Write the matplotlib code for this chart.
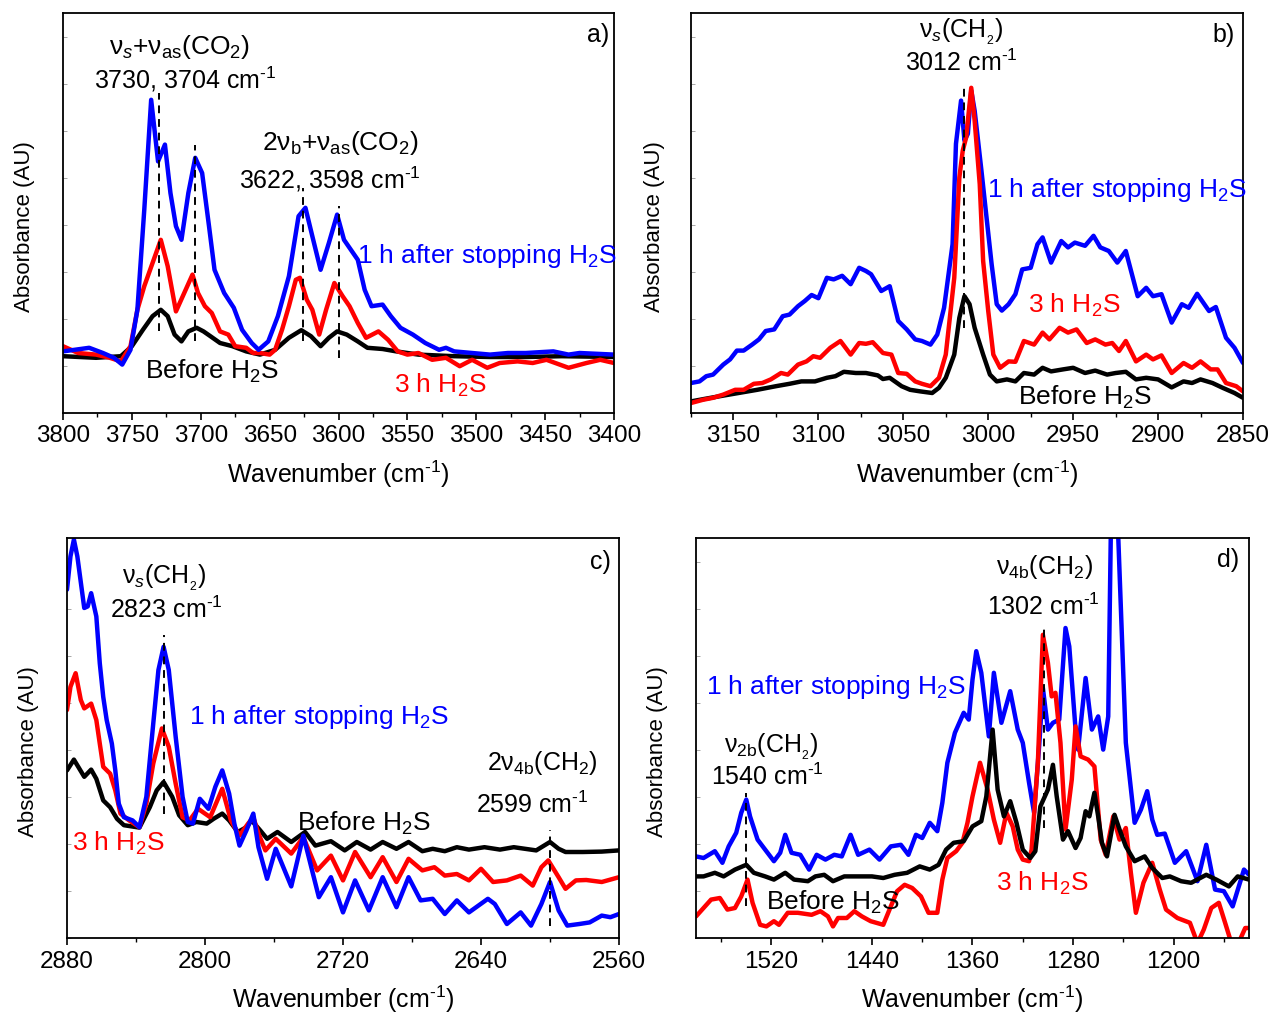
import numpy as np
import matplotlib.pyplot as plt
from matplotlib.ticker import MultipleLocator, NullFormatter

plt.rcParams['font.family'] = ['Liberation Sans', 'DejaVu Sans']
plt.rcParams['mathtext.fontset'] = 'custom'
plt.rcParams['mathtext.rm'] = 'Liberation Sans'
plt.rcParams['mathtext.it'] = 'Liberation Sans:italic'
plt.rcParams['mathtext.bf'] = 'Liberation Sans:bold'
plt.rcParams['mathtext.sf'] = 'Liberation Sans'

# ---- panel a) CO2 combination bands (absorbance in arbitrary units) ----
a_wn_blue = [3800, 3781, 3771, 3763, 3757, 3751, 3746, 3741, 3736, 3731, 3726, 3722, 3718, 3714,
             3709, 3704, 3699, 3694, 3690, 3683, 3676, 3670, 3663, 3658, 3651, 3644, 3636, 3629,
             3624, 3619, 3613, 3607, 3601, 3596, 3591, 3586, 3581, 3576, 3568, 3562, 3555, 3546,
             3537, 3527, 3522, 3516, 3503, 3490, 3477, 3464, 3444, 3433, 3425, 3400]
a_blue = [15.4, 16.3, 15.0, 13.8, 12.1, 15.8, 25.8, 50.8, 78.3, 62.9, 67.1, 55.0, 46.7, 43.3,
          55.0, 63.8, 60.0, 46.7, 35.8, 30.0, 26.3, 20.8, 17.5, 15.8, 17.9, 24.2, 34.2, 49.2,
          51.3, 44.2, 35.8, 42.5, 49.6, 43.3, 40.8, 38.3, 30.8, 26.7, 27.1, 24.2, 21.3, 19.6,
          17.5, 15.8, 16.3, 15.4, 15.0, 14.6, 15.0, 15.0, 15.4, 14.6, 15.0, 14.6]
a_wn_red = [3800, 3789, 3776, 3766, 3758, 3751, 3746, 3741, 3735, 3729, 3724, 3718, 3712, 3706,
            3702, 3697, 3692, 3686, 3680, 3675, 3667, 3662, 3657, 3650, 3646, 3641, 3636, 3631,
            3628, 3623, 3619, 3614, 3609, 3603, 3597, 3592, 3586, 3580, 3571, 3564, 3557, 3550,
            3542, 3532, 3522, 3512, 3503, 3492, 3483, 3470, 3459, 3449, 3433, 3420, 3410, 3400]
a_red = [16.7, 15.0, 14.6, 13.8, 12.9, 16.7, 25.8, 31.7, 37.5, 43.3, 36.7, 25.4, 30.0, 34.6,
         30.0, 26.7, 25.0, 20.4, 19.6, 16.7, 16.3, 15.0, 15.0, 14.6, 15.8, 20.8, 26.7, 33.3,
         33.8, 28.3, 25.8, 19.6, 25.8, 32.5, 29.2, 26.7, 22.5, 18.8, 20.4, 18.3, 15.4, 14.6,
         15.0, 13.3, 13.8, 11.7, 13.3, 11.3, 12.5, 12.9, 12.5, 13.3, 11.3, 12.5, 13.3, 12.5]
a_wn_black = [3800, 3776, 3758, 3750, 3742, 3735, 3729, 3724, 3719, 3714, 3709, 3703, 3698, 3693,
              3686, 3677, 3667, 3657, 3646, 3636, 3627, 3620, 3613, 3607, 3601, 3594, 3586, 3579,
              3568, 3558, 3542, 3516, 3490, 3464, 3438, 3400]
a_black = [14.2, 13.8, 14.2, 16.7, 20.8, 24.2, 25.8, 24.2, 19.6, 17.9, 20.4, 21.3, 20.4, 19.2,
           17.5, 16.7, 15.4, 14.6, 15.8, 18.8, 20.7, 19.2, 16.7, 18.8, 20.4, 19.6, 17.9, 16.3,
           16.0, 15.4, 14.6, 14.2, 14.0, 14.0, 14.2, 14.0]
a_marks = [3730, 3704, 3626, 3600]
a_mark_top = [80.0, 67.1, 56.3, 51.7]
a_mark_bot = [20.4, 17.9, 17.9, 13.8]

# ---- panel b) nu_s(CH2) region ----
b_wn_blue = [3175, 3170, 3166, 3162, 3156, 3152, 3148, 3144, 3139, 3135, 3131, 3126, 3121, 3117,
             3112, 3108, 3104, 3100, 3095, 3091, 3086, 3081, 3076, 3072, 3069, 3063, 3058, 3053,
             3048, 3043, 3039, 3034, 3030, 3026, 3021, 3019, 3016, 3014, 3012, 3010, 3008, 3004,
             3001, 2998, 2995, 2992, 2988, 2984, 2980, 2975, 2971, 2968, 2963, 2957, 2953, 2949,
             2943, 2938, 2934, 2929, 2924, 2919, 2912, 2907, 2903, 2898, 2892, 2886, 2882, 2877,
             2870, 2866, 2860, 2855, 2850]
b_blue = [7.5, 7.9, 9.2, 9.6, 12.1, 13.4, 15.6, 15.6, 17.1, 18.4, 20.5, 20.9, 24.2, 24.6,
          26.7, 28.0, 29.5, 28.7, 33.8, 33.4, 34.3, 32.2, 36.3, 35.5, 34.7, 30.5, 31.7, 23.0,
          20.9, 18.4, 18.0, 17.1, 19.6, 26.3, 42.2, 67.3, 78.1, 68.1, 69.8, 80.6, 75.6, 60.6,
          48.9, 37.2, 27.2, 25.6, 27.2, 29.7, 35.9, 36.3, 42.2, 43.9, 37.6, 43.0, 41.4, 42.6,
          41.8, 44.3, 41.4, 40.5, 37.6, 40.5, 29.2, 31.3, 29.2, 29.7, 22.6, 27.2, 26.3, 29.8,
          25.5, 26.5, 18.8, 16.3, 12.5]
b_wn_red = [3175, 3168, 3162, 3156, 3149, 3144, 3138, 3133, 3128, 3122, 3118, 3112, 3107, 3103,
            3099, 3093, 3087, 3081, 3076, 3072, 3068, 3062, 3057, 3053, 3048, 3043, 3039, 3034,
            3029, 3025, 3020, 3017, 3015, 3013, 3010, 3008, 3005, 3003, 3000, 2997, 2993, 2988,
            2984, 2979, 2973, 2968, 2964, 2958, 2953, 2948, 2942, 2937, 2931, 2927, 2923, 2919,
            2913, 2907, 2903, 2898, 2892, 2885, 2880, 2875, 2869, 2865, 2860, 2854, 2850]
b_red = [2.5, 3.3, 3.8, 4.6, 5.8, 5.8, 7.3, 7.5, 8.4, 10.0, 9.6, 12.1, 12.9, 14.2,
         13.8, 16.3, 18.0, 14.6, 17.5, 17.3, 17.7, 15.0, 14.6, 10.0, 9.8, 7.9, 7.3, 6.7,
         8.8, 14.6, 33.8, 58.9, 65.6, 68.9, 81.3, 73.1, 57.2, 38.0, 25.5, 14.6, 11.3, 12.9,
         12.8, 18.0, 17.1, 20.1, 18.4, 21.3, 20.1, 20.9, 17.5, 18.4, 17.1, 17.5, 15.5, 18.0,
         12.9, 14.6, 13.4, 14.4, 10.0, 12.5, 11.3, 12.9, 10.9, 10.9, 7.5, 6.7, 5.4]
b_wn_black = [3175, 3166, 3158, 3147, 3136, 3125, 3117, 3110, 3102, 3095, 3090, 3085, 3078, 3072,
              3065, 3062, 3058, 3051, 3046, 3040, 3033, 3029, 3025, 3020, 3017, 3014, 3011, 3008,
              3003, 2999, 2995, 2989, 2984, 2979, 2973, 2968, 2963, 2956, 2950, 2943, 2937, 2930,
              2925, 2919, 2913, 2907, 2900, 2892, 2885, 2880, 2875, 2868, 2862, 2855, 2850]
b_black = [2.9, 3.6, 4.2, 5.0, 5.8, 6.7, 7.3, 7.9, 7.9, 8.8, 9.2, 10.3, 10.0, 10.0,
           9.4, 8.5, 8.8, 6.7, 5.8, 5.4, 5.0, 6.3, 8.8, 14.6, 23.8, 29.2, 27.2, 21.3,
           14.6, 9.6, 7.9, 8.4, 7.9, 10.0, 9.6, 11.3, 10.4, 10.9, 11.3, 10.0, 10.6, 9.6,
           10.0, 10.3, 8.4, 8.8, 8.4, 6.4, 7.9, 7.5, 8.4, 7.5, 6.3, 5.0, 3.8]
b_marks = [3014]
b_mark_top = [81.3]
b_mark_bot = [21.3]

# ---- panel c) 2880-2560 cm-1 ----
c_wn_blue = [2880, 2878, 2876, 2874, 2870, 2868, 2866, 2863, 2861, 2859, 2857, 2854, 2852, 2850,
             2847, 2842, 2838, 2834, 2830, 2827, 2824, 2821, 2817, 2813, 2810, 2807, 2803, 2798,
             2794, 2790, 2786, 2783, 2780, 2776, 2772, 2769, 2764, 2759, 2750, 2743, 2734, 2727,
             2720, 2713, 2705, 2697, 2689, 2682, 2675, 2668, 2661, 2654, 2647, 2636, 2632, 2625,
             2617, 2611, 2605, 2600, 2595, 2590, 2583, 2577, 2570, 2565, 2560]
c_blue = [87.1, 95.4, 99.6, 95.4, 82.5, 82.9, 86.2, 80.4, 68.7, 60.3, 54.5, 48.6, 41.9, 33.6,
          30.2, 29.4, 27.7, 35.3, 53.6, 67.0, 72.8, 67.0, 50.3, 35.3, 29.0, 28.6, 34.8, 32.3,
          37.8, 41.9, 36.1, 28.6, 23.1, 26.9, 31.1, 22.7, 14.8, 22.3, 12.9, 25.6, 10.2, 15.2,
          6.4, 14.4, 6.9, 15.2, 7.7, 15.2, 9.4, 9.8, 6.0, 9.4, 6.4, 9.8, 8.5, 3.5,
          6.4, 3.1, 8.5, 14.0, 6.9, 3.1, 3.5, 3.9, 5.6, 5.2, 6.0]
c_wn_red = [2880, 2878, 2875, 2872, 2870, 2866, 2863, 2861, 2859, 2855, 2852, 2849, 2844, 2838,
            2834, 2830, 2825, 2821, 2817, 2813, 2809, 2804, 2797, 2790, 2785, 2780, 2775, 2772,
            2769, 2765, 2759, 2750, 2743, 2735, 2727, 2720, 2713, 2704, 2697, 2689, 2682, 2674,
            2667, 2661, 2654, 2647, 2640, 2633, 2625, 2617, 2610, 2605, 2601, 2595, 2591, 2585,
            2579, 2570, 2560]
c_red = [57.0, 62.8, 66.2, 59.5, 57.4, 58.6, 54.5, 48.6, 42.8, 41.1, 36.9, 31.1, 29.4, 27.7,
         33.6, 43.6, 52.4, 47.8, 38.6, 30.2, 29.4, 32.3, 30.2, 37.3, 29.4, 25.6, 28.6, 30.2,
         26.1, 21.9, 24.8, 21.1, 25.2, 16.9, 20.6, 14.4, 21.5, 15.2, 20.2, 14.0, 19.8, 16.9,
         17.7, 15.6, 16.0, 14.4, 17.3, 14.0, 14.4, 15.6, 13.1, 17.7, 19.4, 15.2, 12.3, 14.4,
         14.5, 14.0, 15.2]
c_wn_black = [2880, 2876, 2870, 2866, 2863, 2859, 2855, 2851, 2847, 2838, 2832, 2828, 2824, 2819,
              2815, 2810, 2805, 2799, 2795, 2790, 2786, 2781, 2776, 2773, 2768, 2764, 2758, 2750,
              2742, 2736, 2727, 2719, 2712, 2704, 2697, 2689, 2682, 2674, 2668, 2661, 2654, 2647,
              2638, 2629, 2621, 2608, 2600, 2595, 2591, 2581, 2570, 2560]
c_black = [41.9, 44.6, 40.3, 42.1, 39.8, 34.4, 32.7, 29.8, 28.2, 27.6, 32.7, 36.9, 39.0, 35.3,
           30.7, 28.2, 29.0, 28.6, 29.8, 31.1, 29.4, 26.5, 27.7, 29.4, 26.9, 24.8, 26.5, 24.0,
           26.5, 23.1, 24.2, 21.9, 24.0, 22.1, 24.0, 22.3, 24.0, 21.7, 22.3, 21.7, 22.7, 22.1,
           22.7, 22.1, 22.7, 21.9, 24.0, 22.3, 21.5, 21.5, 21.6, 21.9]
c_marks = [2823.5, 2600]
c_mark_top = [75.8, 26.9]
c_mark_bot = [31.1, 3.1]

# ---- panel d) 1580-1140 cm-1 ----
d_wn_blue = [1580, 1574, 1565, 1559, 1554, 1548, 1544, 1540, 1537, 1531, 1525, 1518, 1513, 1509,
             1504, 1497, 1490, 1484, 1477, 1470, 1464, 1457, 1451, 1442, 1434, 1425, 1417, 1411,
             1405, 1400, 1394, 1388, 1384, 1380, 1374, 1367, 1363, 1360, 1357, 1353, 1347, 1343,
             1337, 1330, 1324, 1320, 1315, 1311, 1307, 1304, 1300, 1296, 1291, 1286, 1283, 1278,
             1276, 1270, 1265, 1260, 1256, 1252, 1250, 1247, 1244, 1238, 1231, 1226, 1221, 1217,
             1213, 1207, 1199, 1190, 1181, 1174, 1167, 1160, 1153, 1144, 1140]
d_blue = [20.4, 20.0, 21.7, 18.8, 22.9, 26.3, 31.3, 34.6, 30.4, 24.6, 22.1, 19.2, 21.3, 25.8,
          21.3, 20.8, 17.1, 20.8, 19.6, 20.8, 20.4, 25.8, 20.8, 22.1, 19.6, 22.9, 23.3, 20.8,
          25.8, 25.0, 28.8, 26.7, 33.8, 43.8, 51.3, 56.3, 54.6, 64.6, 71.7, 66.3, 50.4, 66.3,
          53.8, 61.7, 52.1, 48.8, 38.8, 31.3, 47.9, 62.5, 52.1, 53.8, 54.6, 77.5, 72.9, 52.1,
          47.1, 65.0, 52.1, 55.4, 47.1, 55.4, 100.0, 140.0, 100.0, 48.8, 28.8, 32.1, 36.7, 29.6,
          25.8, 26.1, 18.8, 21.7, 14.2, 23.3, 12.1, 11.7, 7.9, 17.1, 15.8]
d_wn_red = [1580, 1574, 1568, 1561, 1555, 1549, 1544, 1539, 1535, 1529, 1524, 1518, 1514, 1507,
            1499, 1488, 1481, 1475, 1471, 1467, 1460, 1454, 1448, 1441, 1431, 1425, 1420, 1414,
            1408, 1401, 1395, 1388, 1384, 1380, 1373, 1368, 1364, 1360, 1354, 1348, 1343, 1338,
            1333, 1328, 1324, 1320, 1315, 1313, 1308, 1304, 1300, 1297, 1294, 1290, 1286, 1281,
            1278, 1274, 1268, 1263, 1258, 1254, 1248, 1243, 1238, 1234, 1230, 1224, 1217, 1211,
            1206, 1197, 1187, 1181, 1176, 1170, 1164, 1159, 1154, 1149, 1143, 1140]
d_red = [5.4, 7.5, 9.6, 10.0, 7.1, 7.5, 10.4, 14.6, 8.8, 3.3, 2.9, 4.2, 3.3, 6.3,
         6.3, 5.8, 6.7, 5.4, 2.9, 5.0, 5.0, 6.7, 5.4, 4.2, 3.3, 7.9, 11.7, 13.3,
         12.5, 10.4, 6.3, 6.3, 14.6, 20.0, 21.7, 23.8, 28.8, 35.4, 43.8, 37.1, 29.6, 23.8,
         31.3, 27.9, 22.1, 19.6, 19.2, 22.1, 43.8, 75.8, 68.8, 60.4, 61.3, 48.8, 27.1, 39.6,
         52.9, 45.4, 44.6, 42.9, 24.6, 20.8, 30.4, 24.6, 27.5, 16.3, 6.3, 13.8, 18.8, 12.1,
         7.1, 5.0, 3.8, -1.3, 2.1, 7.5, 8.8, 3.8, -1.3, -1.7, 2.5, 2.5]
d_wn_black = [1580, 1574, 1565, 1558, 1549, 1540, 1534, 1525, 1518, 1509, 1502, 1491, 1485, 1478,
              1471, 1462, 1451, 1440, 1431, 1422, 1412, 1402, 1394, 1387, 1381, 1375, 1367, 1360,
              1353, 1349, 1344, 1340, 1335, 1330, 1325, 1320, 1314, 1310, 1306, 1300, 1296, 1293,
              1288, 1284, 1278, 1274, 1270, 1267, 1263, 1260, 1257, 1253, 1247, 1243, 1238, 1231,
              1223, 1217, 1209, 1203, 1194, 1186, 1174, 1166, 1156, 1149, 1140]
d_black = [15.4, 15.4, 16.3, 15.4, 17.1, 18.3, 16.3, 15.4, 14.6, 16.3, 14.6, 14.2, 15.4, 15.8,
           14.2, 15.4, 15.4, 15.4, 15.0, 15.8, 16.3, 17.9, 17.1, 18.3, 22.1, 23.8, 24.2, 27.9,
           29.2, 35.4, 52.1, 37.1, 30.4, 34.2, 28.8, 22.1, 20.0, 21.7, 32.9, 37.1, 43.3, 35.4,
           24.6, 26.7, 22.5, 25.0, 31.7, 30.4, 36.3, 30.4, 23.8, 20.4, 30.8, 27.1, 22.9, 19.2,
           20.4, 17.5, 15.0, 15.4, 14.2, 13.8, 15.8, 14.6, 12.9, 15.4, 14.6]
d_marks = [1540, 1303]
d_mark_top = [36.3, 77.9]
d_mark_bot = [7.9, 27.5]

BLUE = '#0000ff'
RED = '#ff0000'
BLACK = '#000000'
W, H = 1274, 1014
CM = 'cm$^{\u20101}$'


def make_axes(fig, left, right, top, bottom):
    return fig.add_axes([left / W, 1 - bottom / H, (right - left) / W, (bottom - top) / H])


def style(ax, xlim, major, minor, ylab_x):
    ax.set_xlim(*xlim)
    ax.set_ylim(0, 100)
    ax.xaxis.set_major_locator(MultipleLocator(major))
    ax.xaxis.set_minor_locator(MultipleLocator(minor))
    ax.yaxis.set_major_locator(MultipleLocator(11.75))
    ax.yaxis.set_major_formatter(NullFormatter())
    ax.tick_params(axis='x', which='major', direction='out', length=5, width=1.2,
                   labelsize=17.5, pad=4, top=False)
    ax.tick_params(axis='x', which='minor', direction='out', length=3, width=1.0, top=False)
    ax.tick_params(axis='y', which='major', direction='in', length=3, width=0.6,
                   color='#999999', right=False)
    for s in ax.spines.values():
        s.set_linewidth(1.3)
    ax.set_xlabel('Wavenumber (' + CM + ')', fontsize=18)
    ax.xaxis.set_label_coords(0.5, -0.115)
    ax.set_ylabel('Absorbance (AU)', fontsize=16)
    ax.yaxis.set_label_coords(ylab_x, 0.465)


def curves(ax, data, marks, tops, bots):
    for wn, ab, col in data:
        ax.plot(wn, ab, color=col, lw=3.2, solid_joinstyle='round', solid_capstyle='round')
    for m, t, b in zip(marks, tops, bots):
        ax.plot([m, m], [b, t], color='k', lw=1.4, ls=(0, (4, 3)))


def txt(ax, x, y, s, color='k', size=19, ha='center'):
    ax.text(x, y, s, color=color, fontsize=size, ha=ha, va='center', transform=ax.transAxes)


fig = plt.figure(figsize=(W / 100, H / 100), dpi=100)

# a)
ax = make_axes(fig, 63, 614, 13, 413)
curves(ax, [(a_wn_black, a_black, BLACK), (a_wn_red, a_red, RED), (a_wn_blue, a_blue, BLUE)],
       a_marks, a_mark_top, a_mark_bot)
style(ax, (3800, 3400), 50, 25, -0.05)
txt(ax, 0.212, 0.915, r'ν$_s$+ν$_\mathrm{as}$(CO$_2$)', size=19)
txt(ax, 0.221, 0.833, '3730, 3704 ' + CM, size=18)
txt(ax, 0.503, 0.675, r'2ν$_\mathrm{b}$+ν$_\mathrm{as}$(CO$_2$)', size=19)
txt(ax, 0.485, 0.583, '3622, 3598 ' + CM, size=18)
txt(ax, 0.534, 0.393, r'1 h after stopping H$_2$S', BLUE, ha='left')
txt(ax, 0.270, 0.103, r'Before H$_2$S')
txt(ax, 0.684, 0.070, r'3 h H$_2$S', RED)
txt(ax, 0.971, 0.945, 'a)', size=18)

# b)
ax = make_axes(fig, 691, 1243, 13, 413)
curves(ax, [(b_wn_black, b_black, BLACK), (b_wn_blue, b_blue, BLUE), (b_wn_red, b_red, RED)],
       b_marks, b_mark_top, b_mark_bot)
style(ax, (3175, 2850), 50, 25, -0.048)
txt(ax, 0.489, 0.9525, r'ν$_s$(CH$_{_2}$)', size=18)
txt(ax, 0.489, 0.875, '3012 ' + CM, size=18)
txt(ax, 0.537, 0.5575, r'1 h after stopping H$_2$S', BLUE, ha='left')
txt(ax, 0.694, 0.27, r'3 h H$_2$S', RED)
txt(ax, 0.714, 0.04, r'Before H$_2$S')
txt(ax, 0.964, 0.945, 'b)', size=18)

# c)
ax = make_axes(fig, 67, 619, 538, 938)
curves(ax, [(c_wn_black, c_black, BLACK), (c_wn_red, c_red, RED), (c_wn_blue, c_blue, BLUE)],
       c_marks, c_mark_top, c_mark_bot)
style(ax, (2880, 2560), 80, 40, -0.05)
txt(ax, 0.175, 0.90, r'ν$_s$(CH$_{_2}$)', size=18)
txt(ax, 0.181, 0.82, '2823 ' + CM, size=18)
txt(ax, 0.221, 0.5525, r'1 h after stopping H$_2$S', BLUE, ha='left')
txt(ax, 0.092, 0.2375, r'3 h H$_2$S', RED)
txt(ax, 0.538, 0.2875, r'Before H$_2$S')
txt(ax, 0.861, 0.4375, r'2ν$_\mathrm{4b}$(CH$_2$)', size=18)
txt(ax, 0.842, 0.3325, '2599 ' + CM, size=18)
txt(ax, 0.967, 0.94, 'c)', size=18)

# d)
ax = make_axes(fig, 696, 1249, 538, 938)
curves(ax, [(d_wn_blue, d_blue, BLUE), (d_wn_red, d_red, RED), (d_wn_black, d_black, BLACK)],
       d_marks, d_mark_top, d_mark_bot)
style(ax, (1580, 1140), 80, 40, -0.0515)
txt(ax, 0.631, 0.9275, r'ν$_\mathrm{4b}$(CH$_2$)', size=18)
txt(ax, 0.6275, 0.8275, '1302 ' + CM, size=18)
txt(ax, 0.018, 0.6275, r'1 h after stopping H$_2$S', BLUE, ha='left')
txt(ax, 0.137, 0.4775, r'ν$_\mathrm{2b}$(CH$_{_2}$)', size=18)
txt(ax, 0.130, 0.4025, '1540 ' + CM, size=18)
txt(ax, 0.248, 0.09, r'Before H$_2$S')
txt(ax, 0.627, 0.1375, r'3 h H$_2$S', RED)
txt(ax, 0.962, 0.945, 'd)', size=18)

fig.savefig('out.png', dpi=100)
